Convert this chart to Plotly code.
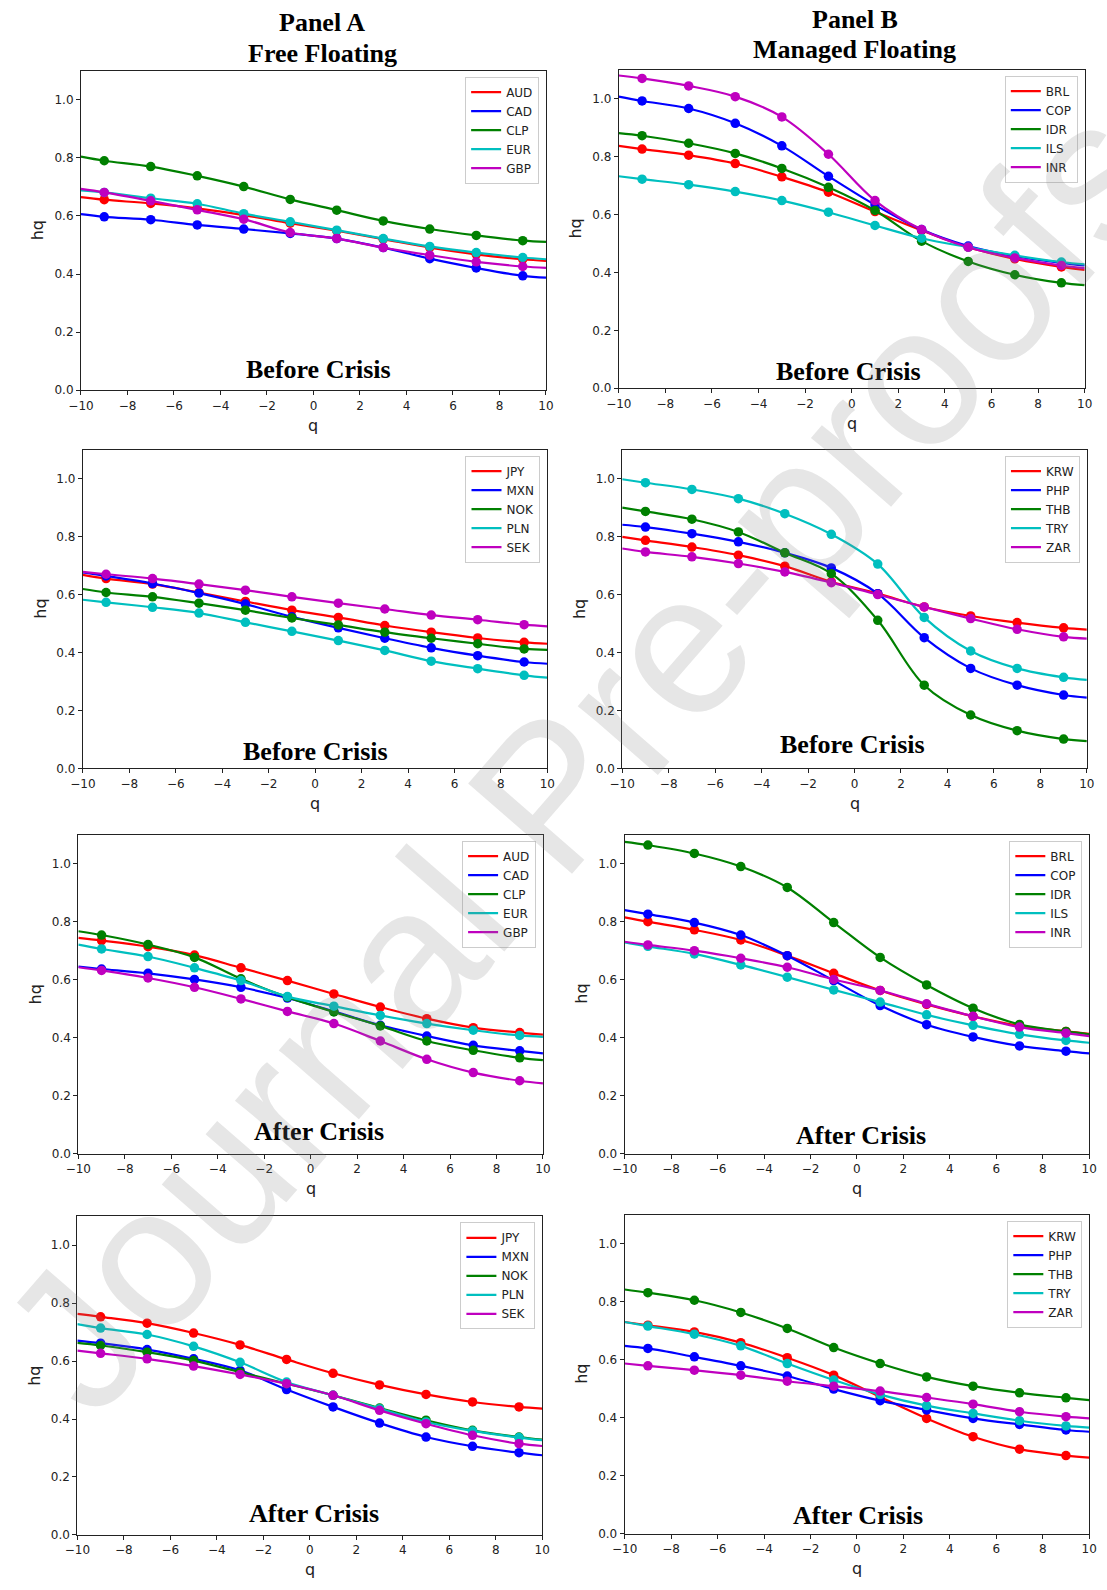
import plotly.graph_objects as go

W, H = 1107, 1590

# q grid used for the curves (line through all, markers at odd q only)
Q_LINE = [-10, -9, -7, -5, -3, -1, 1, 3, 5, 7, 9, 10]
X_TICKS = [-10, -8, -6, -4, -2, 0, 2, 4, 6, 8, 10]
Y_TICKS = [0.0, 0.2, 0.4, 0.6, 0.8, 1.0]

# ---------------- Panel A, before crisis (group 1) ----------------
A1_NAMES = ["AUD", "CAD", "CLP", "EUR", "GBP"]
A1_AUD = [0.665, 0.656, 0.643, 0.626, 0.603, 0.575, 0.549, 0.520, 0.491, 0.468, 0.451, 0.445]
A1_CAD = [0.606, 0.597, 0.587, 0.569, 0.555, 0.540, 0.522, 0.491, 0.453, 0.421, 0.394, 0.388]
A1_CLP = [0.804, 0.790, 0.770, 0.738, 0.701, 0.657, 0.620, 0.583, 0.555, 0.533, 0.515, 0.511]
A1_EUR = [0.688, 0.681, 0.661, 0.642, 0.608, 0.580, 0.551, 0.522, 0.495, 0.474, 0.457, 0.451]
A1_GBP = [0.693, 0.681, 0.652, 0.621, 0.589, 0.543, 0.522, 0.491, 0.465, 0.442, 0.426, 0.421]

# ---------------- Panel B, before crisis (group 1) ----------------
B1_NAMES = ["BRL", "COP", "IDR", "ILS", "INR"]
B1_BRL = [0.837, 0.826, 0.805, 0.776, 0.730, 0.677, 0.610, 0.545, 0.487, 0.447, 0.419, 0.409]
B1_COP = [1.007, 0.992, 0.966, 0.915, 0.837, 0.732, 0.633, 0.548, 0.491, 0.456, 0.433, 0.424]
B1_IDR = [0.881, 0.872, 0.846, 0.811, 0.759, 0.694, 0.614, 0.508, 0.438, 0.392, 0.364, 0.356]
B1_ILS = [0.732, 0.722, 0.703, 0.679, 0.648, 0.608, 0.562, 0.518, 0.487, 0.459, 0.436, 0.428]
B1_INR = [1.080, 1.070, 1.044, 1.007, 0.937, 0.808, 0.648, 0.548, 0.487, 0.450, 0.424, 0.415]

# ---------------- Panel A, before crisis (group 2) ----------------
A2_NAMES = ["JPY", "MXN", "NOK", "PLN", "SEK"]
A2_JPY = [0.668, 0.655, 0.636, 0.607, 0.576, 0.546, 0.521, 0.493, 0.470, 0.450, 0.435, 0.430]
A2_MXN = [0.676, 0.664, 0.638, 0.605, 0.567, 0.523, 0.485, 0.449, 0.416, 0.389, 0.367, 0.361]
A2_NOK = [0.619, 0.607, 0.592, 0.570, 0.546, 0.519, 0.495, 0.470, 0.449, 0.430, 0.412, 0.409]
A2_PLN = [0.582, 0.573, 0.556, 0.536, 0.504, 0.473, 0.441, 0.407, 0.370, 0.344, 0.321, 0.313]
A2_SEK = [0.678, 0.670, 0.655, 0.636, 0.615, 0.592, 0.570, 0.550, 0.529, 0.513, 0.496, 0.490]

# ---------------- Panel B, before crisis (group 2) ----------------
B2_NAMES = ["KRW", "PHP", "THB", "TRY", "ZAR"]
B2_KRW = [0.799, 0.787, 0.764, 0.736, 0.698, 0.644, 0.603, 0.557, 0.526, 0.503, 0.485, 0.479]
B2_PHP = [0.841, 0.833, 0.810, 0.782, 0.744, 0.692, 0.603, 0.451, 0.345, 0.287, 0.253, 0.244]
B2_THB = [0.900, 0.887, 0.860, 0.816, 0.744, 0.672, 0.511, 0.287, 0.184, 0.130, 0.101, 0.094]
B2_TRY = [0.998, 0.986, 0.963, 0.931, 0.879, 0.808, 0.705, 0.521, 0.405, 0.345, 0.314, 0.305]
B2_ZAR = [0.759, 0.747, 0.730, 0.707, 0.678, 0.641, 0.600, 0.557, 0.517, 0.480, 0.454, 0.448]

# ---------------- Panel A, after crisis (group 1) ----------------
A3_NAMES = ["AUD", "CAD", "CLP", "EUR", "GBP"]
A3_AUD = [0.744, 0.735, 0.714, 0.685, 0.641, 0.597, 0.551, 0.506, 0.466, 0.435, 0.418, 0.411]
A3_CAD = [0.645, 0.637, 0.622, 0.601, 0.574, 0.537, 0.491, 0.443, 0.406, 0.374, 0.355, 0.346]
A3_CLP = [0.767, 0.754, 0.721, 0.677, 0.603, 0.540, 0.489, 0.441, 0.389, 0.357, 0.331, 0.323]
A3_EUR = [0.721, 0.706, 0.680, 0.641, 0.597, 0.542, 0.509, 0.477, 0.449, 0.426, 0.408, 0.403]
A3_GBP = [0.643, 0.632, 0.606, 0.574, 0.534, 0.491, 0.449, 0.389, 0.326, 0.280, 0.252, 0.243]

# ---------------- Panel B, after crisis (group 1) ----------------
B3_NAMES = ["BRL", "COP", "IDR", "ILS", "INR"]
B3_BRL = [0.815, 0.800, 0.772, 0.737, 0.683, 0.622, 0.563, 0.515, 0.474, 0.441, 0.422, 0.414]
B3_COP = [0.840, 0.826, 0.797, 0.754, 0.683, 0.597, 0.511, 0.445, 0.403, 0.372, 0.354, 0.346]
B3_IDR = [1.075, 1.064, 1.035, 0.990, 0.918, 0.797, 0.677, 0.582, 0.502, 0.446, 0.422, 0.412]
B3_ILS = [0.729, 0.715, 0.689, 0.651, 0.609, 0.565, 0.523, 0.479, 0.443, 0.412, 0.391, 0.383]
B3_INR = [0.731, 0.720, 0.700, 0.674, 0.643, 0.601, 0.563, 0.517, 0.474, 0.437, 0.416, 0.406]

# ---------------- Panel A, after crisis (group 2) ----------------
A4_NAMES = ["JPY", "MXN", "NOK", "PLN", "SEK"]
A4_JPY = [0.763, 0.753, 0.731, 0.697, 0.656, 0.606, 0.558, 0.518, 0.485, 0.459, 0.442, 0.436]
A4_MXN = [0.671, 0.662, 0.640, 0.608, 0.568, 0.502, 0.442, 0.386, 0.338, 0.306, 0.284, 0.275]
A4_NOK = [0.663, 0.654, 0.631, 0.602, 0.562, 0.522, 0.482, 0.438, 0.396, 0.361, 0.338, 0.329]
A4_PLN = [0.728, 0.714, 0.692, 0.651, 0.596, 0.528, 0.482, 0.436, 0.390, 0.359, 0.336, 0.327]
A4_SEK = [0.636, 0.627, 0.608, 0.583, 0.554, 0.522, 0.482, 0.430, 0.384, 0.344, 0.315, 0.307]

# ---------------- Panel B, after crisis (group 2) ----------------
B4_NAMES = ["KRW", "PHP", "THB", "TRY", "ZAR"]
B4_KRW = [0.730, 0.719, 0.696, 0.659, 0.607, 0.547, 0.472, 0.398, 0.335, 0.292, 0.270, 0.263]
B4_PHP = [0.648, 0.639, 0.610, 0.579, 0.544, 0.499, 0.459, 0.427, 0.398, 0.377, 0.358, 0.352]
B4_THB = [0.842, 0.831, 0.805, 0.763, 0.708, 0.642, 0.587, 0.541, 0.509, 0.486, 0.469, 0.461]
B4_TRY = [0.730, 0.716, 0.688, 0.648, 0.587, 0.530, 0.480, 0.442, 0.415, 0.390, 0.372, 0.366]
B4_ZAR = [0.587, 0.579, 0.564, 0.547, 0.526, 0.509, 0.492, 0.470, 0.447, 0.421, 0.404, 0.398]

PERIOD_LABELS = ["Before Crisis", "Before Crisis", "Before Crisis", "Before Crisis",
                 "After Crisis", "After Crisis", "After Crisis", "After Crisis"]

PANEL_NAMES = [A1_NAMES, B1_NAMES, A2_NAMES, B2_NAMES, A3_NAMES, B3_NAMES, A4_NAMES, B4_NAMES]
PANEL_SERIES = [
    [A1_AUD, A1_CAD, A1_CLP, A1_EUR, A1_GBP],
    [B1_BRL, B1_COP, B1_IDR, B1_ILS, B1_INR],
    [A2_JPY, A2_MXN, A2_NOK, A2_PLN, A2_SEK],
    [B2_KRW, B2_PHP, B2_THB, B2_TRY, B2_ZAR],
    [A3_AUD, A3_CAD, A3_CLP, A3_EUR, A3_GBP],
    [B3_BRL, B3_COP, B3_IDR, B3_ILS, B3_INR],
    [A4_JPY, A4_MXN, A4_NOK, A4_PLN, A4_SEK],
    [B4_KRW, B4_PHP, B4_THB, B4_TRY, B4_ZAR],
]

# ---------------- layout / style ----------------
COLORS = ["#ff0000", "#0000ff", "#008000", "#00bfbf", "#bf00bf"]
# axes boxes in pixels: left, right, top, bottom
BOXES = [
    (69.3, 543.3, 71.0, 392.0),
    (617.5, 1092.4, 70.0, 390.0),
    (71.2, 544.7, 451.7, 771.7),
    (621.0, 1094.6, 451.7, 771.7),
    (66.6, 540.2, 838.3, 1159.0),
    (623.5, 1097.0, 838.3, 1159.0),
    (65.6, 539.5, 1221.7, 1541.7),
    (623.5, 1097.0, 1220.0, 1540.7),
]
LABEL_POS = [(0.23, 0.072), (-0.13, 0.058), (0.0, 0.057), (-0.08, 0.081),
             (0.37, 0.077), (0.17, 0.065), (0.2, 0.075), (0.06, 0.065)]

TICK_FONT = dict(family="DejaVu Sans", size=12, color="#222222")
SERIF_BOLD = dict(family="Liberation Serif", size=26, color="black", weight="bold")

fig = go.Figure()
annotations = []
layout = dict(
    width=W, height=H,
    margin=dict(l=0, r=0, t=0, b=0),
    paper_bgcolor="white", plot_bgcolor="white",
    showlegend=True,
)

for i in range(8):
    k = i + 1
    xa = "x" if k == 1 else f"x{k}"
    ya = "y" if k == 1 else f"y{k}"
    lg = "legend" if k == 1 else f"legend{k}"
    left, right, top, bottom = BOXES[i]
    for j, (name, vals) in enumerate(zip(PANEL_NAMES[i], PANEL_SERIES[i])):
        fig.add_trace(go.Scatter(
            x=Q_LINE, y=vals, mode="lines", name=name,
            line=dict(color=COLORS[j], width=2.2, shape="spline", smoothing=1.0),
            xaxis=xa, yaxis=ya, legend=lg, showlegend=True,
        ))
        fig.add_trace(go.Scatter(
            x=Q_LINE[1:-1], y=vals[1:-1], mode="markers", name=name,
            marker=dict(color=COLORS[j], size=9.5),
            xaxis=xa, yaxis=ya, legend=lg, showlegend=False,
        ))
    axis_common = dict(
        showline=True, linecolor="#222222", linewidth=1, mirror=True,
        ticks="outside", ticklen=4, tickwidth=1, tickcolor="#222222",
        showgrid=False, zeroline=False, tickfont=TICK_FONT,
    )
    layout["xaxis" if k == 1 else f"xaxis{k}"] = dict(
        domain=[left / W, right / W], range=[-10, 10],
        tickvals=X_TICKS, anchor=ya, **axis_common,
    )
    layout["yaxis" if k == 1 else f"yaxis{k}"] = dict(
        domain=[1 - bottom / H, 1 - top / H], range=[0, 1.1],
        tickvals=Y_TICKS, tickformat=".1f", anchor=xa, **axis_common,
    )
    layout[lg] = dict(
        x=(right - 7) / W, y=1 - (top + 6) / H, xanchor="right", yanchor="top",
        bgcolor="rgba(255,255,255,0.85)", bordercolor="#cccccc", borderwidth=1,
        font=dict(family="DejaVu Sans", size=12, color="#222222"),
        itemwidth=30, tracegroupgap=0,
    )
    # period label
    lx, ly = LABEL_POS[i]
    annotations.append(dict(
        x=lx, y=ly, xref=xa, yref=ya, text=PERIOD_LABELS[i], showarrow=False,
        font=SERIF_BOLD, xanchor="center", yanchor="middle",
    ))
    # axis titles
    annotations.append(dict(
        x=(left - 44) / W, y=1 - ((top + bottom) / 2) / H, xref="paper", yref="paper",
        text="hq", textangle=-90, showarrow=False,
        font=dict(family="DejaVu Sans", size=16, color="#222222"),
        xanchor="center", yanchor="middle",
    ))
    annotations.append(dict(
        x=((left + right) / 2) / W, y=1 - (bottom + 35) / H, xref="paper", yref="paper",
        text="q", showarrow=False,
        font=dict(family="DejaVu Sans", size=16, color="#222222"),
        xanchor="center", yanchor="middle",
    ))

# column headers
HEADERS = [("Panel A", 315.0, 22.7), ("Free Floating", 315.0, 53.3),
           ("Panel B", 858.0, 19.3), ("Managed Floating", 858.0, 50.0)]
for txt, px, py in HEADERS:
    annotations.append(dict(
        x=px / W, y=1 - py / H, xref="paper", yref="paper", text=txt,
        showarrow=False, font=SERIF_BOLD, xanchor="center", yanchor="middle",
    ))

# watermark
annotations.append(dict(
    x=580 / W, y=1 - 760 / H, xref="paper", yref="paper",
    text="Journal Pre-proofs", textangle=-49, showarrow=False,
    font=dict(family="Liberation Sans", size=200, color="rgba(128,128,128,0.2)"),
    xanchor="center", yanchor="middle",
))

layout["annotations"] = annotations
fig.update_layout(**layout)
fig.write_html("out.html")
